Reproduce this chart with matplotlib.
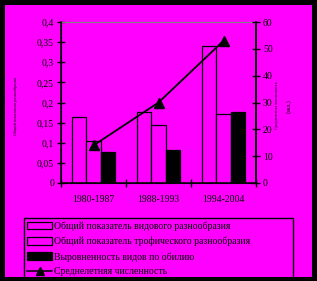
import matplotlib
matplotlib.use("Agg")
import matplotlib.pyplot as plt
from matplotlib.patches import Rectangle
from matplotlib.lines import Line2D
from matplotlib.patches import Patch

periods = ["1980-1987", "1988-1993", "1994-2004"]
species_div = [0.163, 0.176, 0.340]
trophic_div = [0.104, 0.143, 0.171]
evenness = [0.077, 0.082, 0.176]
abundance = [14, 30, 53]
left_ticks = [0, 0.05, 0.1, 0.15, 0.2, 0.25, 0.3, 0.35, 0.4]
left_ticklabels = ["0", "0,05", "0,1", "0,15", "0,2", "0,25", "0,3", "0,35", "0,4"]
right_ticks = [0, 10, 20, 30, 40, 50, 60]
legend_labels = ["Общий показатель видового разнообразия",
                 "Общий показатель трофического разнообразия",
                 "Выровненность видов по обилию",
                 "Среднелетняя численность"]

MAG = "#FF00FF"
plt.rcParams['font.family'] = ['Liberation Serif', 'DejaVu Serif']

W, H = 317, 281
fig = plt.figure(figsize=(W / 100, H / 100), dpi=100)
fig.patch.set_facecolor("black")
fig.add_artist(Rectangle((5 / W, 4 / H), 307 / W, 272 / H, transform=fig.transFigure,
                         facecolor=MAG, edgecolor="none", zorder=-10))

ax = fig.add_axes([61 / W, 98 / H, 195 / W, 161 / H])
ax.set_facecolor(MAG)
x = list(range(len(periods)))
bw = 0.223
ax.bar([i - bw for i in x], species_div, width=bw, facecolor=MAG, edgecolor="black", linewidth=0.9)
ax.bar(x, trophic_div, width=bw, facecolor=MAG, edgecolor="black", linewidth=0.9)
ax.bar([i + bw for i in x], evenness, width=bw, facecolor="black", edgecolor="black", linewidth=0.9)
ax.set_xlim(-0.5, 2.5)
ax.set_ylim(0, 0.4)
ax.set_yticks(left_ticks)
ax.set_yticklabels(left_ticklabels, fontsize=7)
ax.set_xticks([-0.5, 0.5, 1.5, 2.5])
ax.set_xticklabels([])
ax.set_xticks(x, minor=True)
ax.set_xticklabels(periods, minor=True, fontsize=7)
ax.tick_params(axis="x", which="minor", length=0, pad=9)
ax.tick_params(axis="x", which="major", direction="inout", length=6, width=1)
ax.tick_params(axis="y", direction="inout", length=6, width=1, pad=2)
for s in ["left", "bottom", "right"]:
    ax.spines[s].set_linewidth(1.1)
ax.spines["top"].set_color("#808080")
ax.spines["top"].set_linewidth(0.8)

ax2 = ax.twinx()
ax2.plot(x, abundance, color="black", linewidth=1.3, marker="^", markersize=7)
ax2.set_ylim(0, 60)
ax2.set_yticks(right_ticks)
ax2.set_yticklabels([str(t) for t in right_ticks], fontsize=7)
ax2.tick_params(axis="y", direction="inout", length=6, width=1, pad=2)
ax2.spines["right"].set_linewidth(1.1)
ax2.spines["top"].set_visible(False)

fig.text(16 / W, 1 - 106 / H, "Общий показатель разнообразия", rotation=90,
         fontsize=3, ha="center", va="center")
fig.text(277 / W, 1 - 105 / H, "Среднелетняя численность", rotation=90,
         fontsize=3, ha="center", va="center")
fig.text(289 / W, 1 - 106 / H, "(экз.)", rotation=90,
         fontsize=4.5, ha="center", va="center")

handles = [Patch(facecolor=MAG, edgecolor="black", linewidth=0.9),
           Patch(facecolor=MAG, edgecolor="black", linewidth=0.9),
           Patch(facecolor="black", edgecolor="black", linewidth=0.9),
           Line2D([], [], color="black", marker="^", markersize=6, linewidth=1.1)]
leg = fig.legend(handles, legend_labels, loc="upper left",
                 bbox_to_anchor=(24 / W, 1 - 218 / H, 269 / W, 0.0),
                 mode="expand", fontsize=7, frameon=True, fancybox=False,
                 edgecolor="black", facecolor=MAG, framealpha=1,
                 labelspacing=0.6, handlelength=2.5, handleheight=0.8,
                 handletextpad=0.25, borderpad=0.35, borderaxespad=0)
leg.get_frame().set_linewidth(1)

for (x0, y0, w, h) in [(0, 0, 5, H), (312, 0, 5, H), (0, 0, W, 4), (0, 277, W, 4)]:
    fig.add_artist(Rectangle((x0 / W, 1 - (y0 + h) / H), w / W, h / H, transform=fig.transFigure,
                             facecolor="black", edgecolor="none", zorder=20))

fig.savefig("out.png", dpi=100, facecolor=fig.get_facecolor())
